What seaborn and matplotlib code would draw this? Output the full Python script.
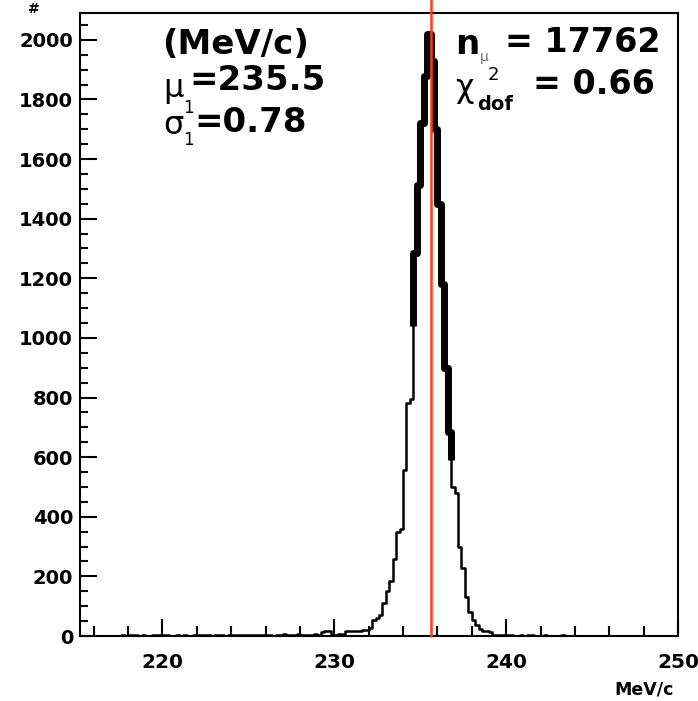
import numpy as np
import pandas as pd
import matplotlib
matplotlib.use("Agg")
import matplotlib.pyplot as plt
from matplotlib.ticker import MultipleLocator
import seaborn as sns

# histogram: 0.2 MeV/c bins starting at 215.2
bin_lo = 215.2
bin_width = 0.2

# 215.2 - 231.0
low_tail = [0, 0, 0, 0, 0, 0, 0, 0, 0, 0, 0, 0,
            3, 0, 2, 4, 2, 0, 3, 0, 0, 2, 3, 5,
            4, 2, 0, 0, 2, 0, 3, 0, 0, 2, 4, 3,
            3, 4, 0, 2, 3, 2, 0, 3, 4, 2, 3, 2,
            2, 3, 4, 3, 2, 3, 2, 4, 0, 3, 2, 6,
            4, 3, 5, 8, 3, 2, 4, 3, 6, 4, 12, 18,
            16, 3, 5, 6, 7, 18, 18]
# 231.0 - 239.6
peak = [17, 18, 16, 19, 20,
        28, 54, 62, 72, 112,
        150, 185, 258, 350, 360,
        557, 780, 795, 1285, 1513,
        1720, 1880, 2020, 1930, 1700,
        1450, 1180, 900, 683, 500,
        480, 300, 228, 132, 82,
        54, 37, 22, 18, 16,
        12, 5, 4]
# 239.6 - 250.0
high_tail = [4, 5, 3, 4, 0, 0, 2, 0, 4, 5, 0, 0, 0, 2, 0, 0, 0, 0, 4, 0] + [0] * 32

fit_lo, fit_hi = 234.6, 236.8
mean_line = 235.6

counts = np.array(low_tail + peak + high_tail, dtype=float)
edges = bin_lo + bin_width * np.arange(len(counts) + 1)
centers = edges[:-1] + bin_width / 2
df = pd.DataFrame({"p": centers, "n": counts})

sns.set_theme(style="ticks")
plt.rcParams["font.family"] = ["DejaVu Sans"]

W, H = 698, 701
fig = plt.figure(figsize=(W / 100, H / 100), dpi=100)
fig.patch.set_facecolor("white")
ax = fig.add_axes([80 / W, 1 - 636 / H, 598 / W, 623 / H])
ax.set_facecolor("white")

sns.histplot(data=df, x="p", weights="n", bins=list(edges), element="step", fill=False,
             color="black", linewidth=1.8, ax=ax)

# thick part over the fit range
idx = np.where((edges[:-1] > fit_lo - 1e-6) & (edges[:-1] < fit_hi - 1e-6))[0]
i0, i1 = idx[0], idx[-1]
xs = np.r_[edges[i0], edges[i0:i1 + 2]]
ys = np.r_[(counts[i0 - 1] + counts[i0]) / 2, counts[i0:i1 + 1], (counts[i1] + counts[i1 + 1]) / 2]
ax.plot(xs, ys, drawstyle="steps-post", color="black", lw=5, solid_capstyle="butt")

ax.axvline(mean_line, ymin=0, ymax=636 / 623, color="#ff3a1a", lw=1.8, clip_on=False, zorder=5)

ax.set_xlim(bin_lo, 250)
ax.set_ylim(0, 2090)
ax.set_xlabel("")
ax.set_ylabel("")

ax.xaxis.set_major_locator(MultipleLocator(10))
ax.xaxis.set_minor_locator(MultipleLocator(2))
ax.yaxis.set_major_locator(MultipleLocator(200))
ax.yaxis.set_minor_locator(MultipleLocator(50))
ax.tick_params(which="both", direction="in", top=False, right=False, width=1.5,
               color="black", labelcolor="black")
ax.tick_params(axis="x", which="major", length=12, pad=12, labelsize=14.5)
ax.tick_params(axis="x", which="minor", length=7)
ax.tick_params(axis="y", which="major", length=12, pad=5, labelsize=14)
ax.tick_params(axis="y", which="minor", length=6)
for lab in ax.get_xticklabels() + ax.get_yticklabels():
    lab.set_fontweight("bold")
for sp in ax.spines.values():
    sp.set_linewidth(1.5)
    sp.set_color("black")


def put(x, y, s, size, weight="bold", **kw):
    fig.text(x / W, 1 - y / H, s, fontsize=size, fontweight=weight,
             va="center", ha="left", color="black", **kw)


# stat box text
put(162, 45, "(MeV/c)", 24.5)
put(163, 88, "μ", 23, weight="normal")
put(189, 81, "=235.5", 24.5)
put(163, 126, "σ", 23, weight="normal")
put(183, 108, "1", 12, weight="normal")
put(183, 140, "1", 12, weight="normal")
put(194, 122, "=0.78", 24.5)
put(455, 45, "n", 24.5)
put(480, 57, "μ", 10, weight="normal", alpha=0.55)
put(505, 42, "= 17762", 24)
put(455, 89, "χ", 23, weight="normal")
put(488, 75, "2", 13, weight="normal")
put(477, 104, "dof", 14)
put(533, 84, "= 0.66", 24)

put(28, 9, "#", 10)
put(614, 689, "MeV/c", 12.5)

fig.savefig("out.png", dpi=100)
